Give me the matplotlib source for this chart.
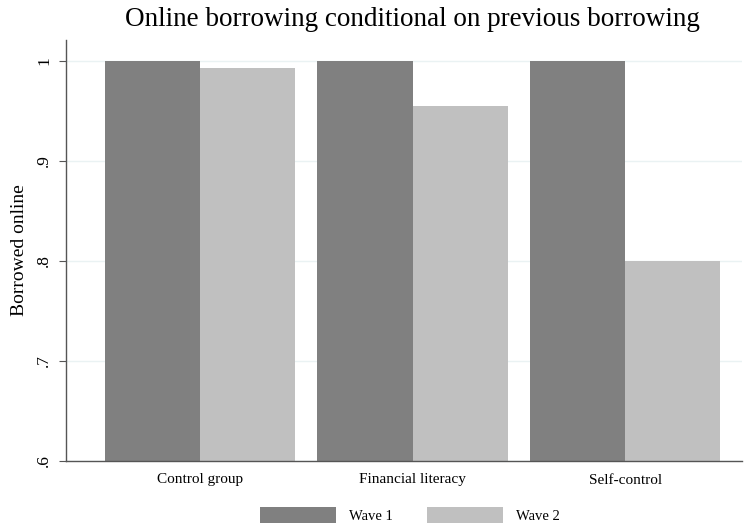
import matplotlib
matplotlib.use("Agg")
import matplotlib.pyplot as plt
import numpy as np

categories = ["Control group", "Financial literacy", "Self-control"]
wave1 = [1.0, 1.0, 1.0]
wave2 = [0.993, 0.955, 0.800]
series_labels = ["Wave 1", "Wave 2"]
yticks = [0.6, 0.7, 0.8, 0.9, 1.0]
ytick_labels = [".6", ".7", ".8", ".9", "1"]

plt.rcParams['font.family'] = ['Liberation Serif', 'DejaVu Serif']

fig = plt.figure(figsize=(7.5, 5.27), dpi=100)
ax = fig.add_axes([66/750, 1-461/527, (742-66)/750, (461-40)/527])

x = np.arange(len(categories))
w = 0.447
ax.bar(x - w/2, wave1, width=w, bottom=0, color="#808080", label=series_labels[0], zorder=2)
ax.bar(x + w/2, wave2, width=w, bottom=0, color="#c0c0c0", label=series_labels[1], zorder=2)

ax.set_ylim(0.6, 1.021)
ax.set_xlim(-0.63, 2.55)
ax.set_yticks(yticks)
ax.set_yticklabels(ytick_labels, rotation=90, va="center", fontsize=12.5)
ax.set_xticks(x)
ax.set_xticklabels(categories, fontsize=11)
ax.tick_params(axis="x", length=0, pad=9)
ax.tick_params(axis="y", length=5, color="#555555", pad=5)
ax.yaxis.grid(True, color="#eaf2f3", linewidth=1, zorder=0)
ax.set_axisbelow(True)
for s in ["top", "right"]:
    ax.spines[s].set_visible(False)
for s in ["left", "bottom"]:
    ax.spines[s].set_color("#555555")
    ax.spines[s].set_linewidth(1)
ax.set_ylabel("Borrowed online", fontsize=14, labelpad=6)

fig.text(412/750, 1-20/527, "Online borrowing conditional on previous borrowing",
         ha="center", va="center", fontsize=19.5)

fig.legend(loc="center", bbox_to_anchor=(410/750, 1-515/527), ncol=2, frameon=False,
           fontsize=10.5, handlelength=5.2, handleheight=1.3, handletextpad=0.9,
           columnspacing=2.3)

fig.savefig("out.png", dpi=100)
